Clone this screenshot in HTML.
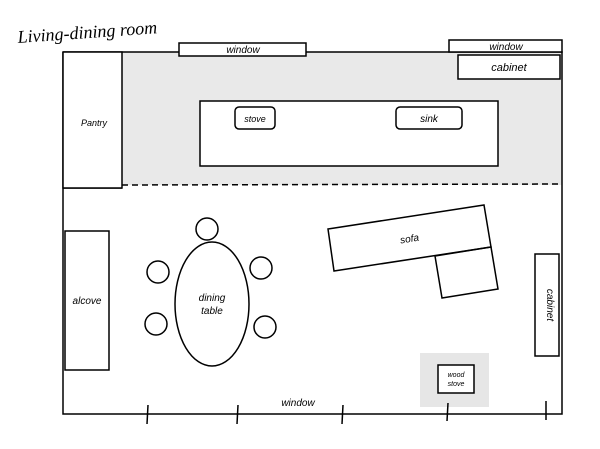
<!DOCTYPE html>
<html><head><style>body{margin:0;background:#fff}</style></head><body>
<svg width="600" height="444" xmlns="http://www.w3.org/2000/svg" font-family="Liberation Sans, sans-serif" font-style="italic">
<rect width="600" height="444" fill="#fff"/>
<rect x="122" y="52" width="440" height="133" fill="#e9e9e9"/>
<rect x="420" y="353" width="69" height="54" fill="#e6e6e6"/>
<g fill="none" stroke="#000" stroke-width="1.5">
<polyline points="63,52 562,52 562,414 63,414 63,52"/>
<line x1="122" y1="185" x2="562" y2="184" stroke-dasharray="6,4"/>
<line x1="63" y1="188" x2="122" y2="188"/>
<rect x="63" y="52" width="59" height="136" fill="#fff"/>
<rect x="179" y="43" width="127" height="13" fill="#fff"/>
<rect x="449" y="40" width="113" height="12" fill="#fff"/>
<rect x="458" y="55" width="102" height="24" fill="#fff"/>
<rect x="200" y="101" width="298" height="65" fill="#fff"/>
<rect x="235" y="107" width="40" height="22" rx="4" fill="#fff"/>
<rect x="396" y="107" width="66" height="22" rx="4" fill="#fff"/>
<rect x="65" y="231" width="44" height="139"/>
<ellipse cx="212" cy="304" rx="37" ry="62"/>
<circle cx="207" cy="229" r="11"/><circle cx="158" cy="272" r="11"/><circle cx="261" cy="268" r="11"/>
<circle cx="156" cy="324" r="11"/><circle cx="265" cy="327" r="11"/>
<polygon points="328,229 484,205 491,247 334,271"/>
<polygon points="435,256 491,247 498,289 442,298"/>
<rect x="535" y="254" width="24" height="102"/>
<rect x="438" y="365" width="36" height="28" fill="#fff"/>
<line x1="148" y1="405" x2="147" y2="424"/><line x1="238" y1="405" x2="237" y2="424"/>
<line x1="343" y1="405" x2="342" y2="424"/><line x1="448" y1="403" x2="447" y2="421"/>
<line x1="546" y1="401" x2="546" y2="420"/>
</g>
<text x="18" y="43" font-family="Liberation Serif, serif" font-size="18" transform="rotate(-4 18 43)">Living-dining room</text>
<g font-size="10" text-anchor="middle">
<text x="243" y="53">window</text>
<text x="506" y="50">window</text>
<text x="509" y="71" font-size="11">cabinet</text>
<text x="94" y="126" font-size="9">Pantry</text>
<text x="255" y="122" font-size="9">stove</text>
<text x="429" y="122">sink</text>
<text x="87" y="304">alcove</text>
<text x="212" y="301">dining</text>
<text x="212" y="314">table</text>
<text x="410" y="242" transform="rotate(-9 410 242)">sofa</text>
<text x="547" y="305" transform="rotate(90 547 305)">cabinet</text>
<text x="456" y="377" font-size="7">wood</text>
<text x="456" y="386" font-size="7">stove</text>
<text x="298" y="406">window</text>
</g>
</svg>
</body></html>
